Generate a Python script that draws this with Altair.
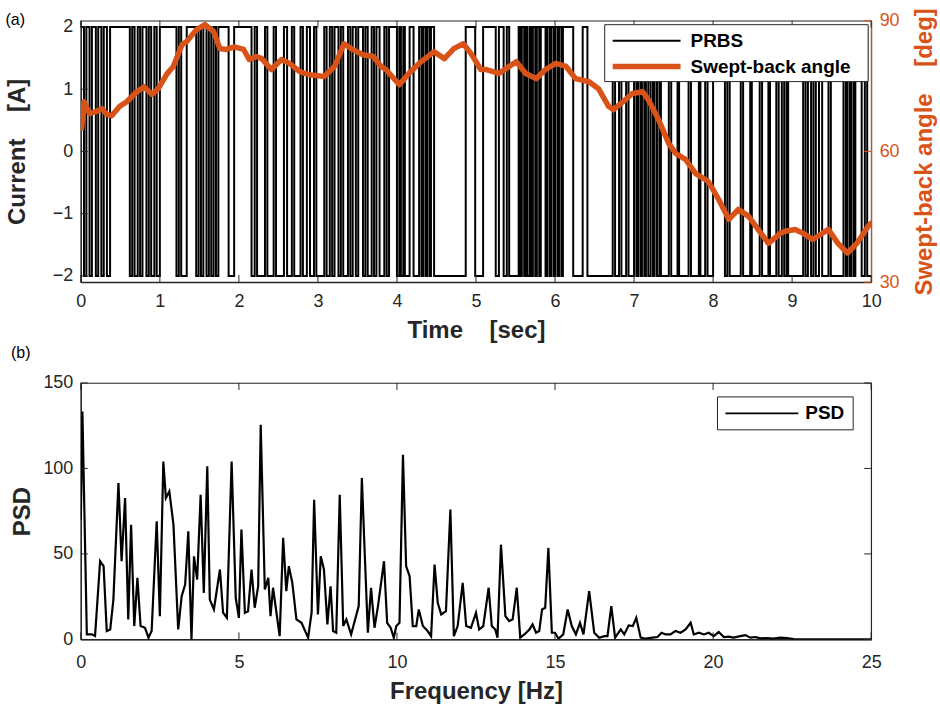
import altair as alt
import pandas as pd

FONT = "Liberation Sans"
ORANGE = "#D95319"
INK = "#262626"

# ---------------- data ----------------
# PRBS: durations of successive constant segments (s), levels alternate +2 / -2 starting at +2
prbs_durations = [
    0.04, 0.03, 0.04, 0.03, 0.05, 0.03, 0.04, 0.03, 0.04,
    0.04, 0.25,
    0.03, 0.03, 0.04, 0.03, 0.03, 0.05, 0.03, 0.03, 0.04, 0.03, 0.04,
    0.21, 0.03, 0.03, 0.07, 0.12,
    0.03, 0.03, 0.03, 0.04, 0.03, 0.03, 0.03, 0.03, 0.03,
    0.13, 0.07, 0.22,
    0.04, 0.03, 0.10, 0.03, 0.08, 0.03, 0.10, 0.04, 0.06, 0.03, 0.08, 0.03, 0.05, 0.04, 0.05,
    0.03, 0.10,
    0.03, 0.04, 0.03, 0.03, 0.05, 0.03, 0.03, 0.06, 0.03, 0.03, 0.04, 0.03, 0.06, 0.03, 0.03,
    0.05, 0.03, 0.03, 0.04, 0.06, 0.03, 0.03,
    0.10, 0.03, 0.02, 0.03, 0.02, 0.06, 0.05, 0.07,
    0.03, 0.02, 0.03, 0.02, 0.03, 0.02, 0.04,
    0.40, 0.12, 0.10, 0.16, 0.04, 0.06, 0.04, 0.03, 0.12,
    0.02, 0.02, 0.03, 0.02, 0.02, 0.03, 0.02, 0.02, 0.03, 0.02, 0.03, 0.02,
    0.06,
    0.02, 0.03, 0.02, 0.03, 0.02, 0.03, 0.02, 0.03, 0.02,
    0.13, 0.12, 0.06, 0.32,
    0.03, 0.05, 0.03, 0.06, 0.03, 0.07,
    0.03, 0.02, 0.03, 0.02, 0.03, 0.02, 0.03, 0.03, 0.03, 0.02, 0.03, 0.03,
    0.02, 0.10, 0.03, 0.08, 0.02, 0.12, 0.03, 0.10, 0.02, 0.06, 0.03, 0.07,
    0.15, 0.03, 0.03, 0.14,
    0.03, 0.09, 0.02, 0.10, 0.03, 0.08, 0.02, 0.08, 0.03, 0.04, 0.03,
    0.03, 0.02, 0.19,
    0.03, 0.03, 0.04, 0.03, 0.03, 0.04, 0.04,
    0.08, 0.03, 0.16,
    0.03, 0.02, 0.03, 0.02, 0.03, 0.02,
    0.08, 0.04, 0.03, 0.05,
]

angle_time = [0.01, 0.04, 0.11, 0.20, 0.27, 0.33, 0.39, 0.49, 0.58, 0.71, 0.80, 0.90, 0.98,
              1.09, 1.17, 1.28, 1.34, 1.46, 1.57, 1.68, 1.76, 1.84, 1.94, 2.06, 2.13, 2.22,
              2.29, 2.41, 2.54, 2.64, 2.77, 2.89, 3.08, 3.21, 3.33, 3.42, 3.57, 3.70, 3.80,
              3.86, 4.03, 4.15, 4.28, 4.47, 4.60, 4.72, 4.84, 4.94, 5.06, 5.13, 5.29, 5.51,
              5.63, 5.76, 5.88, 6.01, 6.14, 6.26, 6.43, 6.55, 6.68, 6.74, 6.86, 6.98, 7.11,
              7.18, 7.31, 7.44, 7.53, 7.65, 7.78, 7.94, 8.07, 8.20, 8.32, 8.45, 8.57, 8.70,
              8.85, 8.91, 9.04, 9.14, 9.26, 9.33, 9.46, 9.58, 9.70, 9.82, 9.96, 10.0]
angle_deg = [65.3, 71.4, 68.7, 69.2, 69.8, 68.5, 68.2, 70.3, 71.4, 73.7, 74.8, 73.1, 74.4,
             77.8, 79.5, 84.5, 85.2, 87.9, 89.1, 87.5, 83.6, 83.4, 84.0, 83.4, 81.1, 81.8,
             81.3, 78.8, 81.1, 80.2, 78.3, 77.6, 77.2, 79.5, 84.7, 83.6, 82.2, 81.8, 79.5,
             78.8, 75.3, 77.9, 80.2, 82.9, 81.3, 83.6, 84.7, 82.4, 78.8, 78.8, 77.9, 80.6,
             77.9, 76.7, 78.8, 80.2, 79.5, 76.7, 76.0, 74.4, 70.3, 69.6, 71.4, 73.3, 73.7,
             71.9, 67.3, 61.8, 59.5, 58.2, 54.9, 53.1, 49.0, 44.4, 46.7, 45.1, 42.1, 38.9,
             41.2, 41.7, 42.1, 41.2, 39.8, 40.6, 42.1, 38.9, 36.7, 38.9, 42.8, 43.5]

psd_freq = [0.0, 0.05, 0.19, 0.35, 0.45, 0.61, 0.72, 0.82, 0.93, 1.03, 1.19, 1.29, 1.40, 1.50,
            1.59, 1.69, 1.79, 1.89, 2.03, 2.14, 2.24, 2.40, 2.50, 2.61, 2.69, 2.80, 2.93, 3.08,
            3.19, 3.30, 3.40, 3.50, 3.58, 3.68, 3.79, 3.89, 4.00, 4.08, 4.21, 4.40, 4.50, 4.62,
            4.77, 4.90, 5.00, 5.08, 5.19, 5.29, 5.40, 5.50, 5.61, 5.69, 5.82, 5.93, 6.00, 6.08,
            6.29, 6.40, 6.50, 6.58, 6.69, 6.82, 6.98, 7.19, 7.30, 7.38, 7.50, 7.59, 7.69, 7.80,
            7.90, 7.98, 8.08, 8.19, 8.30, 8.40, 8.55, 8.79, 8.89, 8.98, 9.08, 9.18, 9.29, 9.40,
            9.59, 9.69, 9.80, 9.90, 9.98, 10.08, 10.19, 10.29, 10.40, 10.50, 10.61, 10.69,
            10.82, 10.97, 11.08, 11.19, 11.29, 11.40, 11.55, 11.69, 11.80, 11.92, 12.08, 12.19,
            12.34, 12.50, 12.60, 12.73, 12.90, 13.00, 13.11, 13.18, 13.29, 13.43, 13.55, 13.66,
            13.79, 13.90, 14.03, 14.19, 14.29, 14.40, 14.50, 14.59, 14.69, 14.79, 14.90, 15.00,
            15.11, 15.26, 15.40, 15.53, 15.66, 15.79, 15.90, 16.08, 16.24, 16.40, 16.56, 16.66,
            16.78, 16.90, 17.08, 17.19, 17.33, 17.46, 17.57, 17.71, 17.87, 18.08, 18.24, 18.37,
            18.50, 18.65, 18.81, 18.97, 19.13, 19.29, 19.39, 19.55, 19.71, 19.86, 20.02, 20.18,
            20.34, 20.49, 20.65, 20.86, 21.02, 21.18, 21.34, 21.49, 21.70, 21.91, 22.13, 22.34,
            22.55, 22.76, 23.08, 23.60, 24.13, 24.66, 25.0]
psd_val = [70.0, 133.3, 2.9, 3.0, 2.0, 45.7, 42.8, 4.9, 5.8, 23.3, 91.5, 45.7, 82.7, 11.7,
           67.1, 7.8, 36.0, 7.8, 6.8, 1.0, 4.9, 69.1, 13.6, 104.0, 82.7, 86.6, 67.1, 5.8,
           25.3, 32.1, 63.2, 0.0, 48.6, 35.0, 84.6, 27.2, 101.2, 23.3, 17.5, 40.9, 15.6, 12.6,
           104.0, 24.3, 12.6, 64.2, 15.6, 16.5, 40.9, 18.5, 31.1, 125.5, 29.2, 36.0, 13.6, 30.2,
           1.9, 59.4, 28.2, 42.8, 33.1, 11.7, 9.7, 1.0, 15.6, 81.7, 14.6, 48.6, 40.9, 8.8,
           31.1, 4.9, 3.9, 84.6, 7.8, 11.7, 2.9, 19.5, 94.4, 50.6, 3.9, 30.2, 6.8, 19.5,
           45.7, 9.7, 6.8, 1.0, 7.8, 9.7, 108.0, 42.8, 37.0, 7.8, 7.8, 17.5,
           7.8, 4.9, 1.9, 43.8, 21.4, 14.6, 16.5, 75.9, 1.9, 7.8, 33.1, 7.8,
           6.8, 15.6, 5.8, 7.8, 30.2, 7.8, 5.8, 1.0, 55.4, 13.6, 10.7, 11.7,
           30.2, 1.0, 2.9, 5.8, 8.8, 3.9, 4.9, 17.5, 18.5, 53.5, 3.9, 3.9,
           0.4, 2.9, 17.5, 7.8, 2.9, 9.7, 2.9, 28.2, 3.9, 1.0, 1.9, 1.9,
           19.5, 1.0, 5.8, 2.9, 8.2, 7.8, 12.6, 1.0, 0.4, 1.0, 1.4, 3.9,
           2.9, 2.9, 4.9, 3.9, 5.8, 9.7, 2.9, 3.9, 2.9, 3.9, 1.9, 4.3,
           1.4, 1.6, 1.0, 1.9, 2.5, 1.0, 1.4, 0.6, 0.8, 0.4, 1.0, 0.8,
           0.2, 0.0, 0.0, 0.0, 0.0, 0.0, 0.0]

time_ticks = list(range(0, 11))
current_ticks = [-2, -1, 0, 1, 2]
angle_ticks = [30, 60, 90]
freq_ticks = [0, 5, 10, 15, 20, 25]
psd_ticks = [0, 50, 100, 150]
top_legend_labels = ["PRBS", "Swept-back angle"]
bottom_legend_labels = ["PSD"]

# ---------------- tables ----------------
pt, pv = [], []
t, lvl = 0.0, 2
for d in prbs_durations:
    if t >= 10:
        break
    pt.append(round(t, 4))
    pv.append(lvl)
    t += d
    lvl = -lvl
pt.append(10.0)
pv.append(pv[-1])

prbs_df = pd.DataFrame({"t": pt, "current": pv})
angle_df = pd.DataFrame({"t": angle_time, "angle": angle_deg})
psd_df = pd.DataFrame({"f": psd_freq, "psd": psd_val})

W = 792
H1 = 262
H2 = 257
TL = 7  # inward tick length
LBL = 18
TTL = 24
LEG = 19

tscale = alt.Scale(domain=[0, 10], nice=False)
cscale = alt.Scale(domain=[-2.1, 2.1], nice=False, zero=False)
ascale = alt.Scale(domain=[30, 90], nice=False, zero=False)

prbs = alt.Chart(prbs_df).mark_line(interpolate="step-after", clip=True, color="black",
                                    strokeWidth=2).encode(
    x=alt.X("t:Q", scale=tscale,
            axis=alt.Axis(values=time_ticks, title="Time\u00a0\u00a0\u00a0\u00a0[sec]",
                          labelPadding=10, titlePadding=8, format="d", labelFlush=False)),
    y=alt.Y("current:Q", scale=cscale,
            axis=alt.Axis(values=current_ticks, title="Current\u00a0\u00a0\u00a0\u00a0[A]",
                          labelPadding=8, titlePadding=23)),
)

angle = alt.Chart(angle_df).mark_line(strokeJoin="round", strokeCap="round", clip=True,
                                      color=ORANGE, strokeWidth=5.5).encode(
    x=alt.X("t:Q", scale=tscale),
    y=alt.Y("angle:Q", scale=ascale,
            axis=alt.Axis(orient="right", values=angle_ticks,
                          title="Swept-back angle\u00a0\u00a0\u00a0\u00a0[deg]",
                          titleColor=ORANGE, labelColor=ORANGE, domainColor=ORANGE,
                          titleAngle=270, labelPadding=8, titlePadding=37)),
)

tt_df = pd.DataFrame({"t": time_ticks})
tick_x_bottom = alt.Chart(tt_df).mark_rule(color=INK, strokeWidth=1).encode(
    x=alt.X("t:Q", scale=tscale), y=alt.value(H1), y2=alt.value(H1 - TL))
tick_x_top = alt.Chart(tt_df).mark_rule(color=INK, strokeWidth=1).encode(
    x=alt.X("t:Q", scale=tscale), y=alt.value(0), y2=alt.value(TL))
tick_c = alt.Chart(pd.DataFrame({"current": current_ticks})).mark_rule(color=INK, strokeWidth=1).encode(
    y=alt.Y("current:Q", scale=cscale, axis=None), x=alt.value(0), x2=alt.value(TL))
tick_a = alt.Chart(pd.DataFrame({"angle": angle_ticks})).mark_rule(color=ORANGE, strokeWidth=1).encode(
    y=alt.Y("angle:Q", scale=ascale, axis=None), x=alt.value(W - TL), x2=alt.value(W))

# legend (a)
leg_a_df = pd.DataFrame({"label": top_legend_labels})
leg_a_box = alt.Chart(pd.DataFrame({"k": [0]})).mark_rect(
    fill="white", stroke=INK, strokeWidth=1).encode(
    x=alt.value(525), x2=alt.value(789), y=alt.value(4), y2=alt.value(61))
leg_a_l1 = alt.Chart(pd.DataFrame({"k": [0]})).mark_rule(color="black", strokeWidth=2).encode(
    x=alt.value(533), x2=alt.value(601), y=alt.value(20))
leg_a_l2 = alt.Chart(pd.DataFrame({"k": [0]})).mark_rule(color=ORANGE, strokeWidth=5.5).encode(
    x=alt.value(533), x2=alt.value(601), y=alt.value(46))
leg_a_txt = alt.Chart(leg_a_df).transform_window(row="row_number()").transform_calculate(
    yy="datum.row === 1 ? 20 : 46").mark_text(
    align="left", baseline="middle", fontSize=LEG, fontWeight="bold", font=FONT,
    color="black").encode(
    x=alt.value(611), y=alt.Y("yy:Q", scale=None), text="label:N")

top = alt.layer(prbs, angle, tick_x_bottom, tick_x_top, tick_c, tick_a,
                leg_a_box, leg_a_l1, leg_a_l2, leg_a_txt).resolve_scale(
    y="independent"
).properties(
    width=W, height=H1,
    title=alt.TitleParams("(a)", anchor="start", frame="bounds", fontSize=16,
                          fontWeight="normal", font=FONT, color="black", offset=-20, dx=0),
)

# ---------------- bottom ----------------
fscale = alt.Scale(domain=[0, 25], nice=False)
pscale = alt.Scale(domain=[0, 150], nice=False)

psd_line = alt.Chart(psd_df).mark_line(strokeWidth=2.2, strokeJoin="miter", clip=True,
                                       color="black").encode(
    x=alt.X("f:Q", scale=fscale,
            axis=alt.Axis(values=freq_ticks, title="Frequency [Hz]", labelPadding=14,
                          titlePadding=8, labelFlush=False)),
    y=alt.Y("psd:Q", scale=pscale,
            axis=alt.Axis(values=psd_ticks, title="PSD", labelPadding=8, titlePadding=8)),
)

ft_df = pd.DataFrame({"f": freq_ticks})
tick_f_bottom = alt.Chart(ft_df).mark_rule(color=INK, strokeWidth=1).encode(
    x=alt.X("f:Q", scale=fscale), y=alt.value(H2), y2=alt.value(H2 - TL))
tick_f_top = alt.Chart(ft_df).mark_rule(color=INK, strokeWidth=1).encode(
    x=alt.X("f:Q", scale=fscale), y=alt.value(0), y2=alt.value(TL))
pt_df = pd.DataFrame({"psd": psd_ticks})
tick_p_left = alt.Chart(pt_df).mark_rule(color=INK, strokeWidth=1).encode(
    y=alt.Y("psd:Q", scale=pscale), x=alt.value(0), x2=alt.value(TL))
tick_p_right = alt.Chart(pt_df).mark_rule(color=INK, strokeWidth=1).encode(
    y=alt.Y("psd:Q", scale=pscale), x=alt.value(W - TL), x2=alt.value(W))

leg_b_box = alt.Chart(pd.DataFrame({"k": [0]})).mark_rect(
    fill="white", stroke=INK, strokeWidth=1).encode(
    x=alt.value(638), x2=alt.value(774), y=alt.value(14), y2=alt.value(47))
leg_b_line = alt.Chart(pd.DataFrame({"k": [0]})).mark_rule(color="black", strokeWidth=2).encode(
    x=alt.value(646), x2=alt.value(719), y=alt.value(30.5))
leg_b_txt = alt.Chart(pd.DataFrame({"label": bottom_legend_labels})).mark_text(
    align="left", baseline="middle", fontSize=LEG, fontWeight="bold", font=FONT,
    color="black").encode(x=alt.value(726), y=alt.value(30.5), text="label:N")

bottom = alt.layer(psd_line, tick_f_bottom, tick_f_top, tick_p_left, tick_p_right,
                   leg_b_box, leg_b_line, leg_b_txt).properties(
    width=W, height=H2,
    title=alt.TitleParams("(b)", anchor="start", frame="bounds", fontSize=16,
                          fontWeight="normal", font=FONT, color="black", offset=13, dx=0),
)

chart = alt.vconcat(top, bottom, spacing=1).properties(
    padding={"left": 4, "top": 6, "right": 3, "bottom": 3},
    background="white",
).configure_view(
    stroke=INK, strokeWidth=1.2
).configure_axis(
    labelFont=FONT, titleFont=FONT, labelFontSize=LBL, titleFontSize=TTL,
    titleFontWeight="bold", grid=False, ticks=False, domainColor=INK, domainWidth=1.2,
    labelColor=INK, titleColor=INK,
)

chart.save("out.html", embed_options={"renderer": "svg", "actions": False})
